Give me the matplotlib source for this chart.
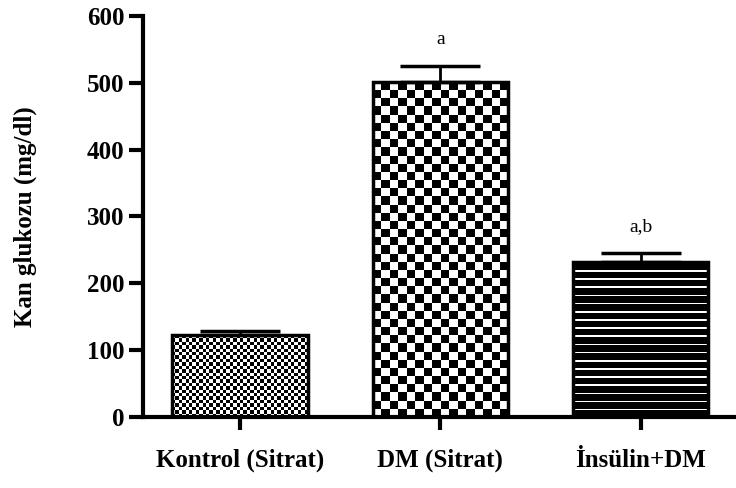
import matplotlib
matplotlib.use('Agg')
import matplotlib.pyplot as plt
import numpy as np

# data
groups = ['Kontrol (Sitrat)', 'DM (Sitrat)', 'İnsülin+DM']
glucose = [122, 501, 232]
sem = [7, 25, 13]
letters = ['', 'a', 'a,b']
yticks = [0, 100, 200, 300, 400, 500, 600]

plt.rcParams['font.family'] = ['Liberation Serif', 'DejaVu Serif']

fig = plt.figure(figsize=(7.36, 4.88), dpi=100)
ax = fig.add_axes([0.194, 0.146, 0.806, 0.821])

x = np.arange(len(groups))
bars = ax.bar(x, glucose, width=0.675, facecolor='none', edgecolor='black',
              linewidth=2.5, zorder=3)

def checker(nrows, ncols):
    i, j = np.indices((nrows, ncols))
    return ((i + j) % 2).astype(float)

def stripes(nrows, sub=5):
    a = np.zeros((nrows * sub, 1))
    a[::sub] = 1.0
    return a

px_per_unit = 400.0 / 600.0   # approx. pixels per mg/dl
px_per_bar = 135.0
patterns = []
for k, rect in enumerate(bars):
    h_px = rect.get_height() * px_per_unit
    if k == 0:
        patterns.append(checker(int(h_px / 3.3), int(px_per_bar / 3.3)))
    elif k == 1:
        patterns.append(checker(int(h_px / 8), int(px_per_bar / 8)))
    else:
        patterns.append(stripes(int(h_px / 8)))

for rect, pat in zip(bars, patterns):
    x0 = rect.get_x()
    x1 = x0 + rect.get_width()
    cmap = 'gray' if pat.shape[1] == 1 else 'gray_r'
    im = ax.imshow(pat, cmap=cmap, vmin=0, vmax=1, extent=[x0, x1, 0, rect.get_height()],
                   aspect='auto', interpolation='nearest', zorder=2)
    im.set_clip_path(rect)

ax.errorbar(x, glucose, yerr=[np.zeros(len(sem)), sem], fmt='none', ecolor='black',
            elinewidth=2, capsize=29, capthick=2.5, zorder=4)

for xi, v, e, t in zip(x, glucose, sem, letters):
    if t:
        ax.annotate(t, (xi, v + e), xytext=(0, 19), textcoords='offset points',
                    ha='center', va='center', fontsize=14)

ax.set_xlim(-0.485, 2.475)
ax.set_ylim(0, 600)
ax.set_yticks(yticks)
ax.set_yticklabels(yticks, fontsize=18, fontweight='bold')
ax.set_xticks(x)
ax.set_xticklabels(groups, fontsize=18, fontweight='bold')
ax.tick_params(axis='y', direction='out', length=10, width=3, pad=3)
ax.tick_params(axis='x', direction='out', length=9, width=3, pad=14)
for s in ['top', 'right']:
    ax.spines[s].set_visible(False)
for s in ['left', 'bottom']:
    ax.spines[s].set_linewidth(3)
ax.spines['bottom'].set_zorder(5)

ax.set_ylabel('Kan glukozu (mg/dl)', fontsize=18, fontweight='bold')
ax.yaxis.set_label_coords(-0.178, 0.5)

fig.savefig('out.png', dpi=100)
plt.close()
